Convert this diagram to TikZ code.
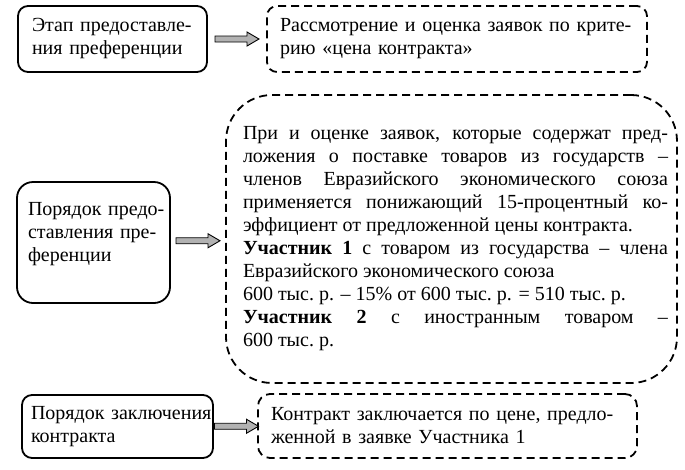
\documentclass[tikz,border=0pt]{standalone}
\usepackage{fontspec}
\setmainfont{Liberation Serif}
\usetikzlibrary{calc}

\begin{document}
\begin{tikzpicture}[x=1pt, y=-1pt,
        every node/.style={font=\fontsize{20}{23}\selectfont},
        stepframe/.style={draw, line width=1.8pt, rounded corners=10pt, inner ysep=0pt, align=left},
        dashframe/.style={stepframe, dash pattern=on 8pt off 5pt},
        grayarrow/.pic={\draw[line width=0.9pt, fill=gray!60] (-22,-3) -- (10,-3) -- (10,-7) -- (22,0) -- (10,7) -- (10,3) -- (-22,3) -- cycle;}]
        \useasboundingbox (0,0) rectangle (685,469);

        %left boxes
        \node[stepframe, minimum width=189pt, minimum height=66pt, text width=161pt, inner xsep=14pt] (stage) at (112.5,39) {\mbox{Этап предоставле-}\\\mbox{ния преференции}};
        \node[stepframe, rounded corners=16pt, minimum width=153pt, minimum height=121pt, text width=131pt, inner xsep=11pt, text depth=68pt] (order) at (93.5,242.5) {\mbox{Порядок предо-}\\\mbox{ставления пре-}\\\mbox{ференции}};
        \node[stepframe, minimum width=191pt, minimum height=63pt, text width=173pt, inner xsep=9pt] (concl) at (117.5,426.5) {\mbox{Порядок заключения}\\\mbox{контракта}};

        %right boxes
        \node[dashframe, minimum width=380pt, minimum height=66pt, text width=354pt, inner xsep=13pt] (review) at (457,39) {Рассмотрение и оценка заявок по крите-\\рию «цена контракта»};
        \node[dashframe, rounded corners=46pt, align=justify, minimum width=451pt, minimum height=288pt, text width=425pt, inner xsep=13pt] (rule) at (451.5,239) {\leftskip=4pt\rightskip=-4pt
        При и оценке заявок, которые содержат пред-\linebreak ложения о поставке товаров из государств –\linebreak членов Евразийского экономического союза\linebreak применяется понижающий 15-процентный ко-\linebreak эффициент от предложенной цены контракта.\par
        \textbf{Участник 1} с товаром из государства – члена\linebreak Евразийского экономического союза\par
        600 тыс.~р. – 15\% от 600 тыс.~р. = 510 тыс.~р.\par
        \textbf{Участник 2} с иностранным товаром –\linebreak 600 тыс.~р.\par};
        \node[dashframe, rounded corners=12pt, minimum width=379pt, minimum height=64pt, text width=353pt, inner xsep=13pt] (result) at (447.5,426) {Контракт заключается по цене, предло-\\женной в заявке Участника 1};

        %arrows
        \pic (arrstage) at ($(stage.east)!0.5!(review.west)$) {grayarrow};
        \pic (arrorder) at ($(order.east)!0.5!(rule.west)$) {grayarrow};
        \pic (arrconcl) at ($(concl.east)!0.5!(result.west)+(1,0)$) {grayarrow};

\end{tikzpicture}
\end{document}
